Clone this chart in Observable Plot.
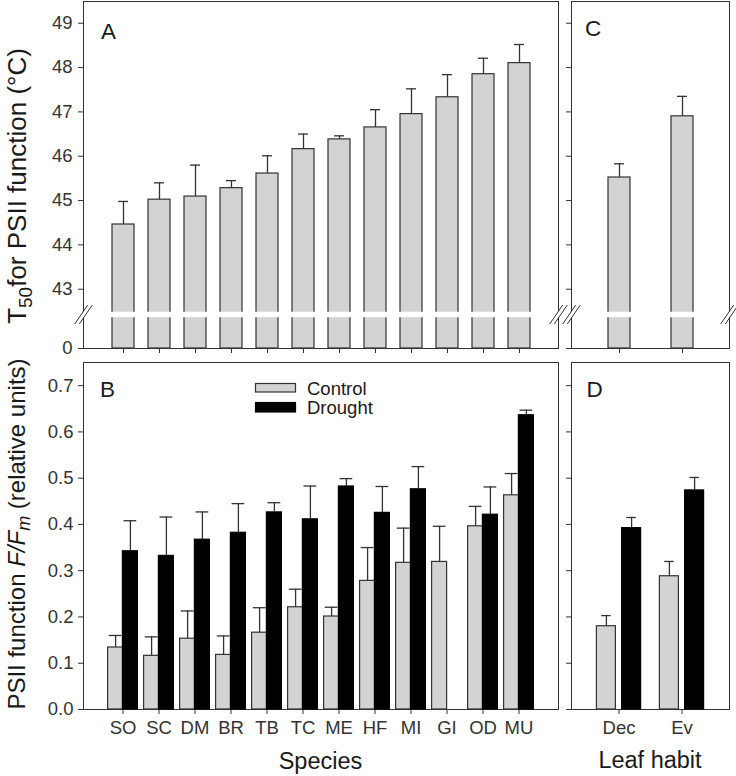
<!DOCTYPE html>
<html><head><meta charset="utf-8">
<script src="https://cdn.jsdelivr.net/npm/d3@7"></script>
<script src="https://cdn.jsdelivr.net/npm/@observablehq/plot@0.6"></script>
<style>
body{margin:0;background:#fff;}
#fig{position:relative;width:736px;height:776px;background:#fff;overflow:hidden;}
#fig > svg{position:absolute;}
</style></head><body><div id="fig"></div>
<script>
// ---------- data ----------
const species = ["SO","SC","DM","BR","TB","TC","ME","HF","MI","GI","OD","MU"];
const t50 = [44.46,45.02,45.09,45.28,45.61,46.16,46.38,46.65,46.95,47.33,47.85,48.10];
const t50Err = [0.52,0.38,0.71,0.17,0.40,0.34,0.08,0.40,0.57,0.51,0.36,0.42];
const habits = ["Dec","Ev"];
const t50Habit = [45.52,46.90];
const t50HabitErr = [0.31,0.45];
const treatments = ["Control","Drought"];
const fvControl = [0.134,0.116,0.153,0.118,0.166,0.221,0.201,0.278,0.317,0.319,0.396,0.463];
const fvControlErr = [0.026,0.041,0.060,0.041,0.054,0.039,0.020,0.072,0.075,0.077,0.043,0.047];
const fvDrought = [0.342,0.332,0.367,0.382,0.426,0.411,0.482,0.425,0.476,null,0.421,0.636];
const fvDroughtErr = [0.066,0.084,0.060,0.063,0.021,0.072,0.017,0.057,0.049,null,0.060,0.011];
const fvHabitControl = [0.180,0.288];
const fvHabitControlErr = [0.023,0.032];
const fvHabitDrought = [0.392,0.4735];
const fvHabitDroughtErr = [0.023,0.028];
const t50Ticks = [0,43,44,45,46,47,48,49];
const fvTicks = [0,0.1,0.2,0.3,0.4,0.5,0.6,0.7];
const BRK = 42.43;      // axis break value
const T50TOP = 49.49;   // top of T50 panels

// ---------- style ----------
const FONT = '"Liberation Sans", Arial, Helvetica, sans-serif';
const INK = "#1a1a1a";
const AX = "#333";
const EDGE = "#333";
const GRAY = "#d3d3d3";
const baseStyle = {background:"transparent", fontFamily:FONT, fontSize:"18.5px", color:AX, overflow:"visible"};
const BREAK = {draw(ctx){ for (const o of [-2.3, 2.3]) { ctx.moveTo(o-6.5, 9.5); ctx.lineTo(o+6.5, -9.5); } }};

const fig = document.getElementById("fig");
function place(svg, left, top){ svg.style.left = left+"px"; svg.style.top = top+"px"; fig.appendChild(svg); return svg; }

const yT50 = (labels) => ({type:"linear", domain:[0,BRK,T50TOP], range:[348,314,1], ticks:t50Ticks,
  tickSize:5, tickPadding:6, label:null, tickFormat: labels ? (d=>String(d)) : (()=>"")});

function breakMarks(){
  return [
    Plot.ruleY([BRK], {stroke:"white", strokeWidth:5.5, insetLeft:-3, insetRight:-3}),
    Plot.dot([BRK], {y:d=>d, frameAnchor:"left", symbol:BREAK, fill:"none", stroke:AX, strokeWidth:1}),
    Plot.dot([BRK], {y:d=>d, frameAnchor:"right", symbol:BREAK, fill:"none", stroke:AX, strokeWidth:1})
  ];
}

// ---------- Panel A ----------
const rowsA = species.map((s,i)=>({s, v:t50[i], e:t50Err[i]}));
place(Plot.plot({
  width:566, height:362, marginLeft:83, marginRight:8, marginTop:1, marginBottom:14,
  style:baseStyle,
  x:{type:"band", domain:species, paddingInner:0.4, paddingOuter:0.7, tickSize:5, tickFormat:()=>"", label:null},
  y:yT50(true),
  marks:[
    Plot.frame({stroke:AX}),
    Plot.barY(rowsA, {x:"s", y:"v", fill:GRAY, stroke:EDGE, strokeWidth:1.2}),
    Plot.ruleX(rowsA, {x:"s", y1:"v", y2:d=>d.v+d.e, stroke:EDGE, strokeWidth:1.3}),
    Plot.tickY(rowsA, {x:"s", y:d=>d.v+d.e, stroke:EDGE, strokeWidth:1.3, insetLeft:6, insetRight:6}),
    ...breakMarks()
  ]
}), 0, 0);

// ---------- Panel C ----------
const rowsC = habits.map((s,i)=>({s, v:t50Habit[i], e:t50HabitErr[i]}));
place(Plot.plot({
  width:180, height:362, marginLeft:15, marginRight:7, marginTop:1, marginBottom:14,
  style:baseStyle,
  x:{type:"band", domain:habits, paddingInner:0.653, paddingOuter:0.573, tickSize:5, tickFormat:()=>"", label:null},
  y:yT50(false),
  marks:[
    Plot.frame({stroke:AX}),
    Plot.barY(rowsC, {x:"s", y:"v", fill:GRAY, stroke:EDGE, strokeWidth:1.2}),
    Plot.ruleX(rowsC, {x:"s", y1:"v", y2:d=>d.v+d.e, stroke:EDGE, strokeWidth:1.3}),
    Plot.tickY(rowsC, {x:"s", y:d=>d.v+d.e, stroke:EDGE, strokeWidth:1.3, insetLeft:6, insetRight:6}),
    ...breakMarks()
  ]
}), 556, 0);

// ---------- Panel B ----------
const rowsB = species.flatMap((s,i)=>[
  {s, t:"Control", v:fvControl[i], e:fvControlErr[i]},
  {s, t:"Drought", v:fvDrought[i], e:fvDroughtErr[i]}
]).filter(d=>d.v!=null);
function groupedMarks(rows, off, capInset){
  const c = rows.filter(d=>d.t==="Control"), dr = rows.filter(d=>d.t==="Drought");
  const out = [];
  for (const [set, dx, stroke] of [[c,-off,EDGE],[dr,off,"#000"]]) {
    out.push(Plot.barY(set, {x:"s", y:"v", fill:"t", stroke, strokeWidth:1.2, dx}));
    out.push(Plot.ruleX(set, {x:"s", y1:"v", y2:d=>d.v+d.e, stroke:EDGE, strokeWidth:1.3, dx}));
    out.push(Plot.tickY(set, {x:"s", y:d=>d.v+d.e, stroke:EDGE, strokeWidth:1.3, dx, insetLeft:capInset, insetRight:capInset}));
  }
  return out;
}
const bwB = (475/13)*(1-0.595);
place(Plot.plot({
  width:566, height:390, marginLeft:83, marginRight:8, marginTop:10, marginBottom:33,
  style:baseStyle,
  x:{type:"band", domain:species, paddingInner:0.595, paddingOuter:0.7975, tickSize:5, tickPadding:6, label:null},
  y:{domain:[0,0.75], ticks:fvTicks, tickFormat:d3.format(".1f"), tickSize:5, tickPadding:5, label:null},
  color:{domain:treatments, range:[GRAY,"#000"]},
  marks:[
    Plot.frame({stroke:AX}),
    ...groupedMarks(rowsB, bwB/2, (bwB-12.5)/2)
  ]
}), 0, 352);

// ---------- Panel D ----------
const rowsD = habits.flatMap((s,i)=>[
  {s, t:"Control", v:fvHabitControl[i], e:fvHabitControlErr[i]},
  {s, t:"Drought", v:fvHabitDrought[i], e:fvHabitDroughtErr[i]}
]);
place(Plot.plot({
  width:180, height:390, marginLeft:15, marginRight:7, marginTop:10, marginBottom:33,
  style:baseStyle,
  x:{type:"band", domain:habits, paddingInner:0.692, paddingOuter:0.592, tickSize:5, tickPadding:6, label:null},
  y:{domain:[0,0.75], ticks:fvTicks, tickFormat:()=>"", tickSize:5, label:null},
  color:{domain:treatments, range:[GRAY,"#000"]},
  marks:[
    Plot.frame({stroke:AX}),
    ...groupedMarks(rowsD, 12.6, 4.75)
  ]
}), 556, 352);

// ---------- overlay: titles, panel letters, legend ----------
const ov = d3.create("svg").attr("width",736).attr("height",776)
  .style("left","0px").style("top","0px").style("pointer-events","none")
  .style("font-family",FONT).attr("fill",INK);
fig.appendChild(ov.node());

const tA = ov.append("text").attr("transform","translate(26,186) rotate(-90)").attr("text-anchor","middle").attr("font-size",26);
tA.append("tspan").text("T");
tA.append("tspan").attr("font-size",19).attr("dy",5.5).text("50");
tA.append("tspan").attr("dy",-5.5).text("for PSII function (°C)");

const tB = ov.append("text").attr("transform","translate(25,534) rotate(-90)").attr("text-anchor","middle").attr("font-size",24);
tB.append("tspan").text("PSII function ");
tB.append("tspan").attr("font-style","italic").text("F/F");
tB.append("tspan").attr("font-style","italic").attr("font-size",18).attr("dy",5).text("m");
tB.append("tspan").attr("dy",-5).text(" (relative units)");

ov.append("text").attr("x",320.5).attr("y",769).attr("text-anchor","middle").attr("font-size",23.5).text("Species");
ov.append("text").attr("x",650).attr("y",768).attr("text-anchor","middle").attr("font-size",23.5).text("Leaf habit");

for (const [t,x,y] of [["A",101,38.5],["B",100,397],["C",585,36],["D",586.5,397]])
  ov.append("text").attr("x",x).attr("y",y).attr("font-size",22.5).text(t);

// legend
const lg = ov.append("g");
const legendRows = [{t:treatments[0], y:383.5, h:8.5, fill:GRAY, stroke:EDGE, ty:394.5},
                    {t:treatments[1], y:402.5, h:9.5, fill:"#000", stroke:"#000", ty:414}];
for (const r of legendRows) {
  lg.append("rect").attr("x",255.5).attr("y",r.y).attr("width",40).attr("height",r.h)
    .attr("fill",r.fill).attr("stroke",r.stroke).attr("stroke-width",1.2);
  lg.append("text").attr("x",307).attr("y",r.ty).attr("font-size",18.5).text(r.t);
}
</script></body></html>
